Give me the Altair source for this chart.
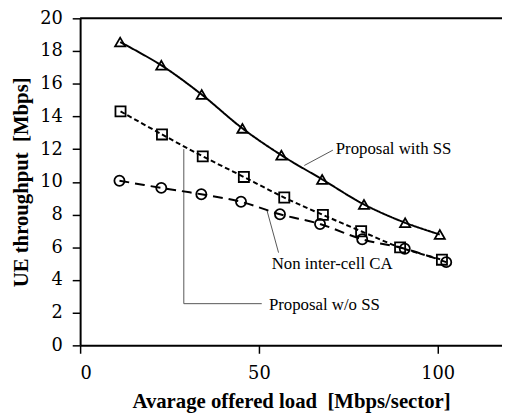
import altair as alt
import pandas as pd

# Data
x_with = [11.2, 22.7, 34.0, 45.4, 56.3, 67.7, 79.4, 90.9, 100.6]
y_with = [18.55, 17.13, 15.34, 13.27, 11.63, 10.15, 8.62, 7.50, 6.78]

x_wo = [11.3, 22.9, 34.3, 45.8, 57.1, 67.9, 78.6, 89.5, 101.2]
y_wo = [14.31, 12.90, 11.56, 10.30, 9.04, 7.98, 6.98, 5.99, 5.24]

x_non = [11.0, 22.7, 33.9, 45.0, 55.9, 67.1, 78.9, 90.8, 102.4]
y_non = [10.07, 9.63, 9.24, 8.78, 8.02, 7.42, 6.49, 5.91, 5.09]

x_ticks = [0, 50, 100]
y_ticks = [0, 2, 4, 6, 8, 10, 12, 14, 16, 18, 20]

labels = ["Proposal with SS", "Non inter-cell CA", "Proposal w/o SS"]
label_x = [71.5, 53.6, 52.8]
label_y = [12.0, 5.0, 2.45]

# leader line segments (data coordinates)
seg_x = [62.7, 52.2, 29.0, 29.0]
seg_y = [11.0, 8.3, 12.0, 2.55]
seg_x2 = [70.7, 55.5, 29.0, 50.8]
seg_y2 = [11.94, 5.67, 2.55, 2.55]

SERIF = "Liberation Serif"
TICKFONT = "DejaVu Serif"

df_with = pd.DataFrame({"x": x_with, "y": y_with})
df_wo = pd.DataFrame({"x": x_wo, "y": y_wo})
df_non = pd.DataFrame({"x": x_non, "y": y_non})
df_lab = pd.DataFrame({"x": label_x, "y": label_y, "t": labels})
df_seg = pd.DataFrame({"x": seg_x, "y": seg_y, "x2": seg_x2, "y2": seg_y2})

xs = alt.Scale(domain=[0, 118], nice=False)
ys = alt.Scale(domain=[0, 20], nice=False)

xaxis = alt.Axis(values=x_ticks, grid=False, labelOverlap=False)
yaxis = alt.Axis(values=y_ticks, grid=False, labelOverlap=False)
XT = "Avarage offered load\u00a0 [Mbps/sector]"
YT = "UE throughput\u00a0 [Mbps]"
xenc = alt.X("x:Q", scale=xs, title=XT, axis=xaxis)
yenc = alt.Y("y:Q", scale=ys, title=YT, axis=yaxis)


def series(df, shape, dash):
    line = alt.Chart(df).mark_line(color="black", strokeWidth=2, interpolate="catmull-rom",
                                   strokeDash=dash).encode(x=xenc, y=yenc)
    pts = alt.Chart(df).mark_point(shape=shape, filled=False, color="black", size=105,
                                   strokeWidth=1.8, opacity=1).encode(x=xenc, y=yenc)
    return [line, pts]


layers = []
layers += series(df_with, "triangle-up", [1, 0])
layers += series(df_wo, "square", [5, 3])
layers += series(df_non, "circle", [10, 6])

segs = alt.Chart(df_seg).mark_rule(color="#555555", strokeWidth=1).encode(
    x=xenc, y=yenc, x2="x2:Q", y2="y2:Q")

texts = alt.Chart(df_lab).mark_text(align="left", baseline="middle", font=SERIF,
                                    fontSize=17, color="black").encode(
    x=xenc, y=yenc, text="t:N")

top_line = alt.Chart(pd.DataFrame({"y": [20]})).mark_rule(color="black", strokeWidth=2).encode(
    y=yenc)

chart = alt.layer(top_line, segs, *layers, texts).properties(
    width=427, height=331,
    autosize=alt.AutoSizeParams(type="none"),
    padding={"left": 73, "top": 8, "right": 0, "bottom": 66},
).configure_view(stroke=None).configure_axis(
    domainColor="black", domainWidth=2, tickColor="black", tickWidth=1.5, tickSize=8,
    labelFont=TICKFONT, labelFontSize=18, labelColor="black",
    titleFont=SERIF, titleFontSize=21, titleFontWeight="bold", titleColor="black",
).configure_axisX(labelPadding=12, titlePadding=8).configure_axisY(labelPadding=10, titlePadding=8)

chart.save("out.html", embed_options={"renderer": "svg", "actions": False})
